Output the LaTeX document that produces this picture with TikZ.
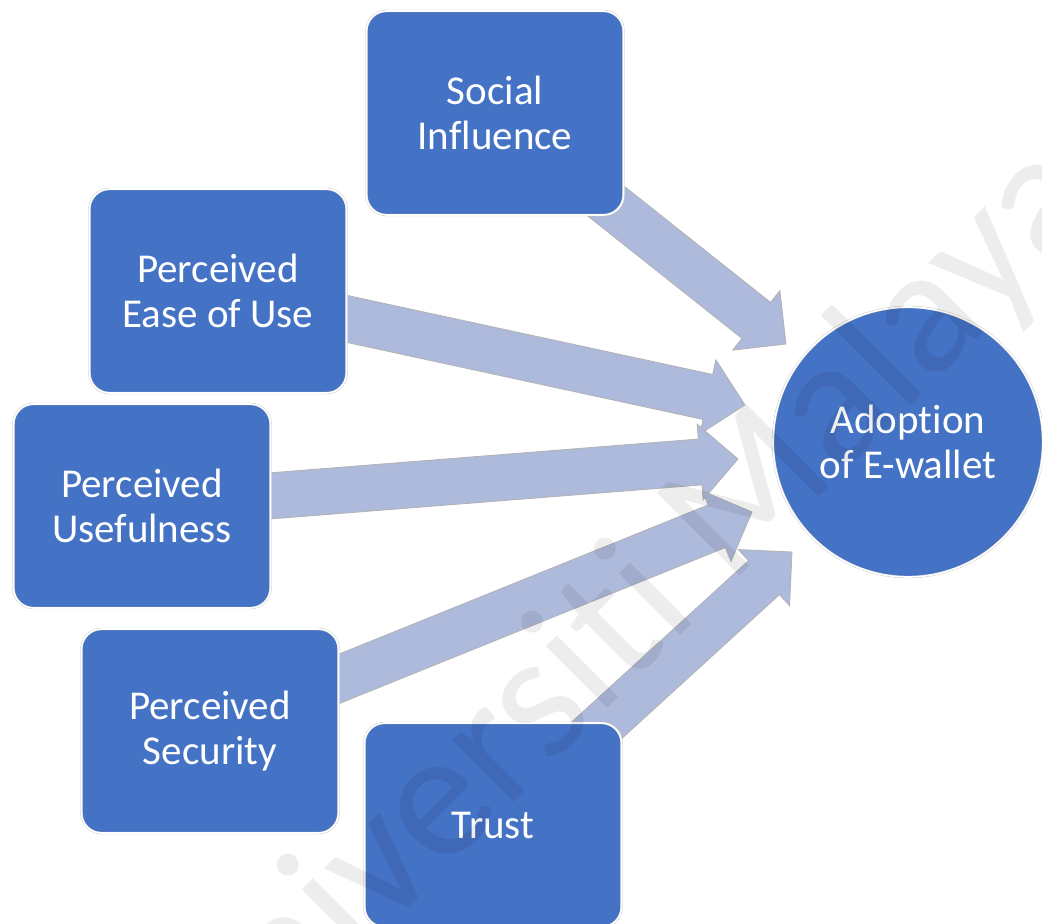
\documentclass[tikz,border=0pt]{standalone}
\usepackage{fontspec}
\setmainfont{Carlito}[Ligatures=NoCommon]
\usetikzlibrary{calc, backgrounds}
\definecolor{boxblue}{HTML}{4472C4}
\definecolor{arrowblue}{HTML}{AEBADC}
\tikzset{
  % fattore del modello
  factor/.style={draw=black!22, double=white, double distance=1.6pt,
    fill=boxblue, rounded corners=20pt, minimum width=257pt, minimum height=204pt,
    align=center, text=white, font=\fontsize{41}{45.5}\selectfont},
  % variabile dipendente
  outcome/.style={factor, circle, minimum size=270pt, inner sep=0pt},
  % freccia a blocco
  blockarrow/.style={fill=arrowblue, draw=black!30, line width=0.8pt, line join=miter},
  % filigrana
  watermark/.style={black, opacity=0.07, font=\fontsize{182}{182}\selectfont},
}
% freccia larga dal centro di #1 fino alla punta #2
\newcommand{\bigarrow}[2]{%
  \coordinate (hb) at ($(#2)!38pt!(#1)$);
  \filldraw[blockarrow] ($(#1)!23pt!90:(#2)$) -- ($(hb)!23pt!90:(#2)$)
    -- ($(hb)!38pt!90:(#2)$) -- (#2) -- ($(hb)!38pt!-90:(#2)$)
    -- ($(hb)!23pt!-90:(#2)$) -- ($(#1)!23pt!-90:(#2)$) -- cycle;
}

\begin{document}
\begin{tikzpicture}[x=1pt, y=-1pt]
  \useasboundingbox (0,0) rectangle (1042,924);
  \node[factor] (si) at (495,113) {Social\\Influence};
  \node[factor] (peou) at (218,291) {Perceived\\Ease of Use};
  \node[factor] (pu) at (142,506) {Perceived\\Usefulness};
  \node[factor] (ps) at (210,731) {Perceived\\Security};
  \node[factor] (tr) at (493,825) {Trust};
  \node[outcome] (ad) at (908,442) {Adoption\\of E-wallet};
  \coordinate (t1) at (786,344);
  \coordinate (t2) at (745,405);
  \coordinate (t3) at (738,459);
  \coordinate (t4) at (752,512);
  \coordinate (t5) at (792,552);
  \begin{scope}[on background layer]
    \bigarrow{si.center}{t1}
    \bigarrow{peou.center}{t2}
    \bigarrow{pu.center}{t3}
    \bigarrow{ps.center}{t4}
    \bigarrow{tr.center}{t5}
  \end{scope}
  \node[watermark, rotate=45] (wm) at (622,625) {Universiti Malaya};
\end{tikzpicture}
\end{document}
